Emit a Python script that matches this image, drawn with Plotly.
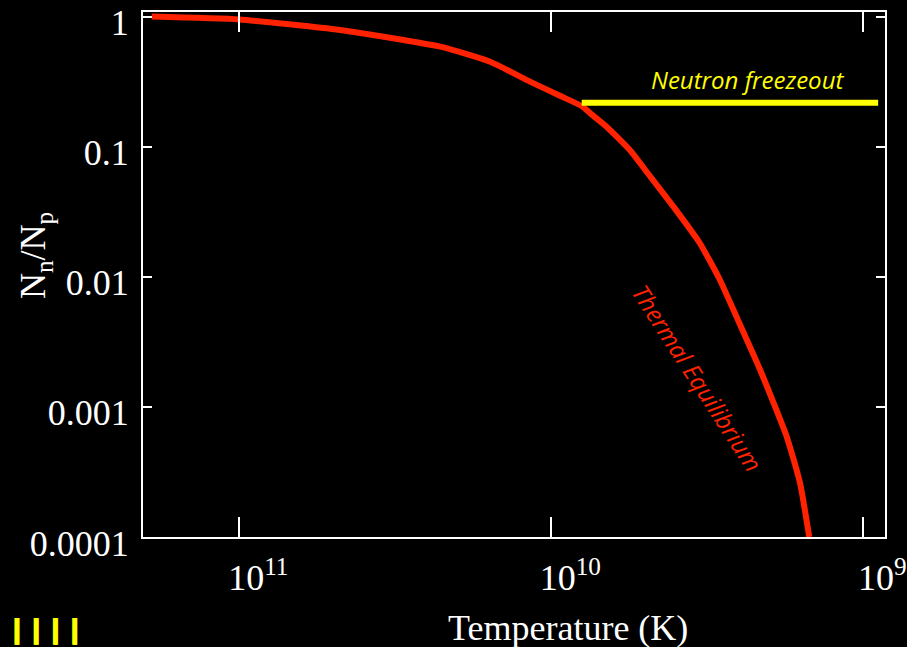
import plotly.graph_objects as go

# --- data ---
temperature_K = [1.91e11, 1.0e11, 4.76e10, 2.27e10, 1.57e10, 1.17e10, 9.38e9,
                 7.99e9, 7.45e9, 6.65e9, 5.60e9, 4.95e9, 4.06e9, 3.34e9, 2.88e9, 2.55e9,
                 2.14e9, 1.76e9, 1.595e9, 1.49e9]
ratio_nn_np = [1.0, 0.950, 0.789, 0.587, 0.450, 0.316, 0.246,
               0.205, 0.178, 0.1424, 0.0943, 0.0642, 0.0346, 0.0181, 0.00945, 0.00494,
               0.00192, 5.9e-4, 2.6e-4, 1.0e-4]

freezeout_T = [7.99e9, 8.96e8]
freezeout_ratio = [0.218, 0.218]

x_tickvals = [1e11, 1e10, 1e9]
x_ticktext = ["10<sup>11</sup>", "10<sup>10</sup>", "10<sup>9</sup>"]
y_tickvals = [1, 0.1, 0.01, 0.001, 0.0001]
y_ticktext = ["1", "0.1", "0.01", "0.001", "0.0001"]

RED = "#ff2200"
YELLOW = "#ffff00"
WHITE = "#ffffff"
SERIF = "Liberation Serif"
SANS = "Open Sans"

fig = go.Figure()
fig.add_trace(go.Scatter(x=temperature_K, y=ratio_nn_np, mode="lines",
                         line=dict(color=RED, width=6, shape="spline", smoothing=0.5),
                         hoverinfo="skip", showlegend=False))
fig.add_trace(go.Scatter(x=freezeout_T, y=freezeout_ratio, mode="lines",
                         line=dict(color=YELLOW, width=6),
                         hoverinfo="skip", showlegend=False))

axis_common = dict(showgrid=False, zeroline=False, showline=True, linecolor=WHITE,
                   linewidth=2, mirror="ticks", ticks="inside", tickcolor=WHITE,
                   tickwidth=2, ticklabeloverflow="allow", automargin=False,
                   tickfont=dict(family=SERIF, size=36, color=WHITE))

fig.update_xaxes(type="log", range=[11.3087, 8.9304], tickmode="array",
                 tickvals=x_tickvals, ticktext=x_ticktext, ticklen=20,
                 ticklabelshift=-19, ticklabelstandoff=8, **axis_common)
fig.update_yaxes(type="log", range=[-4.0, 0.035], tickmode="array",
                 tickvals=y_tickvals, ticktext=y_ticktext, ticklen=9,
                 ticklabelshift=6, ticklabelstandoff=5, **axis_common)

annotations = [
    dict(text="Neutron freezeout", x=(747 - 143) / 742, y=(537 - 80) / 525,
         xref="paper", yref="paper", showarrow=False, xanchor="center", yanchor="middle",
         font=dict(family=SANS, size=24, color=YELLOW, style="italic")),
    dict(text="Thermal Equilibrium", x=(697 - 143) / 742, y=(537 - 378) / 525,
         xref="paper", yref="paper", showarrow=False, xanchor="center", yanchor="middle",
         textangle=57, font=dict(family=SANS, size=24, color=RED, style="italic")),
    dict(text="Temperature (K)", x=(568 - 143) / 742, y=(537 - 628) / 525,
         xref="paper", yref="paper", showarrow=False, xanchor="center", yanchor="middle",
         font=dict(family=SERIF, size=36, color=WHITE)),
    dict(text="N<sub>n</sub>/N<sub>p</sub>", x=(36 - 143) / 742, y=(537 - 256) / 525,
         xref="paper", yref="paper", showarrow=False, xanchor="center", yanchor="middle",
         textangle=-90, font=dict(family=SERIF, size=36, color=WHITE)),
    dict(text="<b>| | | |</b>", x=(46 - 143) / 742, y=(537 - 629) / 525,
         xref="paper", yref="paper", showarrow=False, xanchor="center", yanchor="middle",
         font=dict(family="DejaVu Sans", size=27, color=YELLOW,
                   shadow="1px 0px 0px #ffff00, -1px 0px 0px #ffff00")),
]

fig.update_layout(width=907, height=647, paper_bgcolor="black", plot_bgcolor="black",
                  margin=dict(l=143, r=22, t=12, b=110), showlegend=False,
                  annotations=annotations)

fig.write_html("out.html", config={"displayModeBar": False})
